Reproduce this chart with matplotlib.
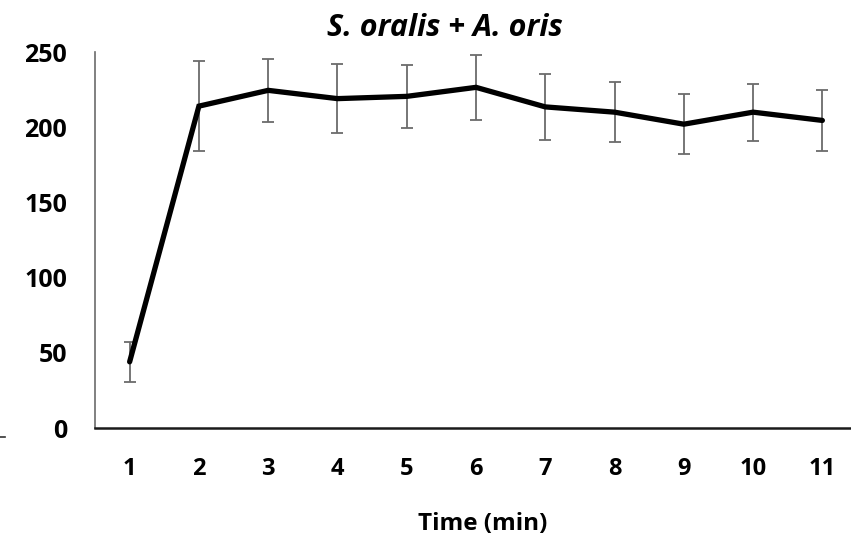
import matplotlib
matplotlib.use("Agg")
import matplotlib.pyplot as plt
from matplotlib.lines import Line2D

plt.rcParams['font.family'] = ['Open Sans', 'DejaVu Sans']

time_min = [1, 2, 3, 4, 5, 6, 7, 8, 9, 10, 11]
values = [44, 214, 224.5, 219, 220.5, 226.5, 213.5, 210, 202, 210, 204.5]
errors = [13.5, 30, 21, 23, 21, 21.5, 22, 20, 20, 19, 20.5]
y_ticks = [0, 50, 100, 150, 200, 250]
title = "S. oralis + A. oris"
x_label = "Time (min)"

W, H = 851, 537
fig = plt.figure(figsize=(W / 100, H / 100), dpi=100)
ax = fig.add_axes([95 / W, 1 - 428 / H, (857 - 95) / W, (428 - 52) / H])

ax.errorbar(time_min, values, yerr=errors, fmt='none', ecolor='#6b6b6b',
            elinewidth=1.3, capsize=4.5, capthick=1.3, zorder=2)
ax.plot(time_min, values, color='black', lw=3.8, solid_capstyle='round',
        solid_joinstyle='miter', zorder=3)

ax.set_xlim(0.5, 11.5)
ax.set_ylim(0, 250)
ax.set_xticks(time_min)
ax.set_xticklabels([str(t) for t in time_min])
ax.set_yticks(y_ticks)
ax.set_yticklabels([str(v) for v in y_ticks])
ax.tick_params(axis='both', length=0)
ax.tick_params(axis='y', pad=20, labelsize=18)
ax.tick_params(axis='x', pad=21, labelsize=17)
for lbl in ax.get_xticklabels() + ax.get_yticklabels():
    lbl.set_fontweight('bold')

ax.spines['top'].set_visible(False)
ax.spines['right'].set_visible(False)
ax.spines['left'].set_color('#6b6b6b')
ax.spines['left'].set_linewidth(1.2)
ax.spines['bottom'].set_color('#1a1a1a')
ax.spines['bottom'].set_linewidth(1.8)

fig.text(445 / W, 1 - 36 / H, title, ha='center', va='baseline',
         fontsize=22, fontweight='bold', fontstyle='italic')
fig.text(483 / W, 1 - 530 / H, x_label, ha='center', va='baseline',
         fontsize=17.5, fontweight='bold')

fig.add_artist(Line2D([0, 5 / W], [1 - 437 / H, 1 - 437 / H],
                      color='#333333', lw=1.2, transform=fig.transFigure))

fig.savefig('out.png', dpi=100)
